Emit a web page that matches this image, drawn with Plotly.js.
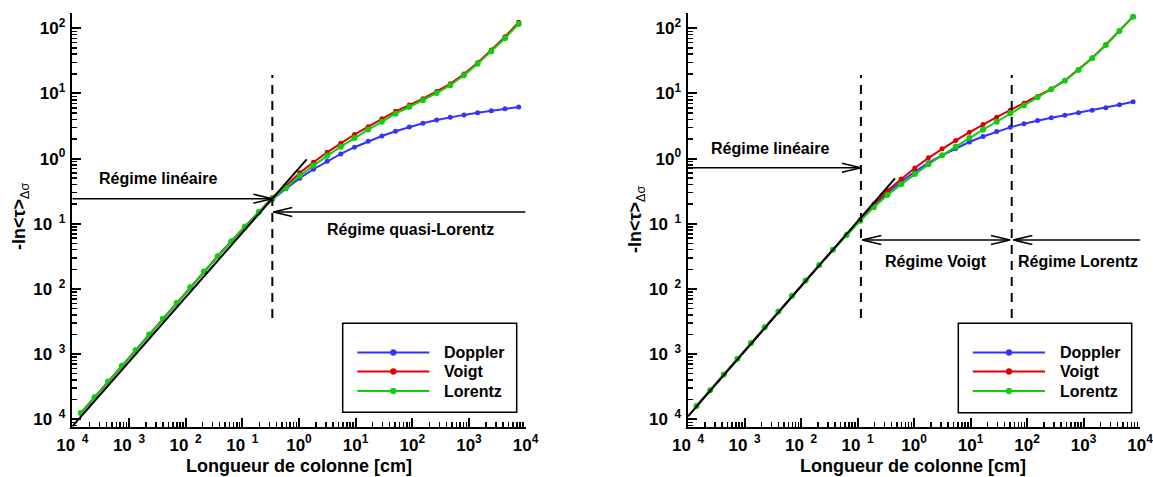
<!DOCTYPE html>
<html><head><meta charset="utf-8">
<script src="https://cdn.plot.ly/plotly-3.0.1.min.js"></script>
<style>html,body{margin:0;padding:0;background:#fff}#chart{width:1153px;height:477px}</style>
</head><body><div id="chart"></div>
<script>
// ---------------- data ----------------
const columnLength = [1.413e-4, 2.463e-4, 4.295e-4, 7.489e-4, 1.306e-3, 2.278e-3, 3.972e-3, 6.927e-3, 1.208e-2, 2.106e-2, 3.673e-2, 6.405e-2, 0.1117, 0.1948, 0.3396, 0.5923, 1.033, 1.801, 3.141, 5.476, 9.550, 16.65, 29.04, 50.64, 88.31, 154.0, 268.5, 468.3, 816.6, 1424, 2483, 4330, 7551];

const dopplerLeft = [1.2445e-4, 2.170e-4, 3.784e-4, 6.600e-4, 1.151e-3, 2.007e-3, 3.499e-3, 6.104e-3, 1.064e-2, 1.856e-2, 3.162e-2, 5.395e-2, 9.078e-2, 0.1496, 0.2377, 0.3467, 0.5012, 0.6871, 0.9120, 1.180, 1.496, 1.845, 2.223, 2.630, 3.055, 3.483, 3.908, 4.305, 4.688, 5.070, 5.445, 5.821, 6.194];
const voigtLeft = [1.2445e-4, 2.170e-4, 3.784e-4, 6.600e-4, 1.151e-3, 2.007e-3, 3.499e-3, 6.104e-3, 1.064e-2, 1.856e-2, 3.162e-2, 5.395e-2, 9.078e-2, 0.1531, 0.2523, 0.3802, 0.6081, 0.8770, 1.250, 1.718, 2.344, 3.090, 4.074, 5.309, 6.637, 8.299, 10.76, 14.06, 19.86, 29.65, 46.34, 74.13, 123.6];
const lorentzLeft = [1.2445e-4, 2.170e-4, 3.784e-4, 6.600e-4, 1.151e-3, 2.007e-3, 3.499e-3, 6.104e-3, 1.064e-2, 1.856e-2, 3.162e-2, 5.395e-2, 9.078e-2, 0.1514, 0.2443, 0.3573, 0.5470, 0.7816, 1.102, 1.524, 2.070, 2.786, 3.673, 4.898, 6.194, 7.834, 10.16, 13.37, 19.05, 28.44, 44.26, 70.47, 116.7];

const dopplerRight = [1.603e-4, 2.796e-4, 4.875e-4, 8.502e-4, 1.483e-3, 2.585e-3, 4.508e-3, 7.862e-3, 1.346e-2, 2.326e-2, 3.981e-2, 6.738e-2, 0.1135, 0.1884, 0.2999, 0.4426, 0.6295, 0.8670, 1.122, 1.429, 1.799, 2.188, 2.600, 3.020, 3.436, 3.837, 4.236, 4.634, 5.058, 5.521, 6.039, 6.699, 7.464];
const voigtRight = [1.603e-4, 2.796e-4, 4.875e-4, 8.502e-4, 1.483e-3, 2.585e-3, 4.508e-3, 7.862e-3, 1.346e-2, 2.326e-2, 3.981e-2, 6.738e-2, 0.1161, 0.1995, 0.3236, 0.4864, 0.7161, 1.028, 1.413, 1.905, 2.529, 3.334, 4.325, 5.546, 7.079, 9.016, 11.70, 15.85, 23.17, 34.99, 55.98, 91.62, 151.4];
const lorentzRight = [1.603e-4, 2.796e-4, 4.875e-4, 8.502e-4, 1.483e-3, 2.585e-3, 4.508e-3, 7.862e-3, 1.346e-2, 2.326e-2, 3.981e-2, 6.738e-2, 0.1109, 0.1799, 0.2761, 0.4027, 0.5808, 0.8166, 1.122, 1.524, 2.070, 2.780, 3.681, 4.955, 6.531, 8.710, 11.56, 15.70, 22.91, 34.59, 55.34, 90.78, 150.3];

// linear-regime asymptotes (two end points each)
const linearLeftX = [1e-4, 1.371];
const linearLeftY = [7.76e-5, 0.975];
const linearRightX = [1e-4, 0.461];
const linearRightY = [1.11e-4, 0.499];

// regime boundaries (dashed lines) and their vertical extent
const boundariesLeft = [0.339];
const boundariesRight = [0.115, 53.6];
const boundaryYRange = [0.00358, 19.2];

// regime arrows
const arrowsLeft = [
  {x0: 1e-4, x1: 0.339, y: 0.2426, heads: 'end'},
  {x0: 1e4, x1: 0.353, y: 0.1517, heads: 'end'}
];
const arrowsRight = [
  {x0: 1e-4, x1: 0.115, y: 0.725, heads: 'end'},
  {x0: 0.1216, x1: 50.0, y: 0.0564, heads: 'both'},
  {x0: 1e4, x1: 57.3, y: 0.0564, heads: 'end'}
];

const seriesNames = ['Doppler', 'Voigt', 'Lorentz'];
const seriesColors = ['#3333ff', '#dd0000', '#11cc11'];
const markerSizes = [5, 5, 6];

const xTickVals = [1e-4, 1e-3, 1e-2, 1e-1, 1, 10, 100, 1000, 10000];
const xTickText = ['10<sup>\u00a0\u00a04</sup>', '10<sup>\u00a0\u00a03</sup>', '10<sup>\u00a0\u00a02</sup>', '10<sup>\u00a0\u00a01</sup>', '10<sup>0</sup>', '10<sup>1</sup>', '10<sup>2</sup>', '10<sup>3</sup>', '10<sup>4</sup>'];
const yTickVals = [1e-4, 1e-3, 1e-2, 1e-1, 1, 10, 100];
const yTickText = ['10<sup>\u00a0\u00a04</sup>', '10<sup>\u00a0\u00a03</sup>', '10<sup>\u00a0\u00a02</sup>', '10<sup>\u00a0\u00a01</sup>', '10<sup>0</sup>', '10<sup>1</sup>', '10<sup>2</sup>'];

const textRegimeLinear = 'Régime linéaire';
const textRegimeQuasi = 'Régime quasi-Lorentz';
const textRegimeVoigt = 'Régime Voigt';
const textRegimeLorentz = 'Régime Lorentz';
const xTitle = 'Longueur de colonne [cm]';
const yTitle = '<b>-ln&lt;τ&gt;</b><sub>Δσ</sub>';

// ---------------- layout helpers ----------------
const W = 1153, H = 477;
const FONT = 'Liberation Sans, Arial, Helvetica, sans-serif';
const px = X => X / W;
const py = Y => 1 - Y / H;
const bold = s => '<b>' + s + '</b>';

function axisBase(extra) {
  return Object.assign({
    type: 'log', showline: true, linecolor: 'black', linewidth: 2.5,
    ticks: 'inside', ticklen: 9, tickwidth: 2, tickcolor: 'black',
    showgrid: false, zeroline: false, mirror: false, fixedrange: true,
    tickmode: 'array', ticklabelstandoff: 1, ticklabeloverflow: 'allow',
    tickfont: {family: FONT, size: 17, color: 'black', weight: 'bold'},
    minor: {ticks: 'inside', ticklen: 5, tickwidth: 1.5, tickcolor: 'black', dtick: 'D1', showgrid: false}
  }, extra);
}

const yDomain = [py(426.7), py(13.3)];
const yRange = [-4.114, 2.23];

const traces = [];
function addPanel(xa, ya, d, v, l, linX, linY) {
  [d, v, l].forEach((ys, k) => {
    traces.push({
      x: columnLength, y: ys, xaxis: xa, yaxis: ya, type: 'scatter', mode: 'lines+markers',
      name: seriesNames[k], showlegend: false,
      line: {color: seriesColors[k], width: 2},
      marker: {color: seriesColors[k], size: markerSizes[k]}
    });
  });
  traces.push({x: linX, y: linY, xaxis: xa, yaxis: ya, type: 'scatter', mode: 'lines',
    showlegend: false, line: {color: 'black', width: 2}, hoverinfo: 'skip'});
}
addPanel('x', 'y', dopplerLeft, voigtLeft, lorentzLeft, linearLeftX, linearLeftY);
addPanel('x2', 'y2', dopplerRight, voigtRight, lorentzRight, linearRightX, linearRightY);

const shapes = [];
function addBoundaries(xref, yref, list) {
  list.forEach(xb => shapes.push({type: 'line', xref, yref, x0: xb, x1: xb,
    y0: boundaryYRange[0], y1: boundaryYRange[1], line: {color: 'black', width: 2, dash: '9px,7px'}}));
}
function head(xref, yref, x, y, dir) {
  shapes.push({type: 'path', xref, yref, xsizemode: 'pixel', ysizemode: 'pixel', xanchor: x, yanchor: y,
    path: `M${-19 * dir},4.5 L0,0 L${-19 * dir},-4.5`, line: {color: 'black', width: 1.5}});
}
function addArrows(xref, yref, list) {
  list.forEach(a => {
    shapes.push({type: 'line', xref, yref, x0: a.x0, x1: a.x1, y0: a.y, y1: a.y, line: {color: 'black', width: 1.5}});
    const dir = a.x1 > a.x0 ? 1 : -1;
    head(xref, yref, a.x1, a.y, dir);
    if (a.heads === 'both') head(xref, yref, a.x0, a.y, -dir);
  });
}
addBoundaries('x', 'y', boundariesLeft);
addBoundaries('x2', 'y2', boundariesRight);
addArrows('x', 'y', arrowsLeft);
addArrows('x2', 'y2', arrowsRight);

const annotations = [];
function txt(text, X, Y, size, extra) {
  annotations.push(Object.assign({text, xref: 'paper', yref: 'paper', x: px(X), y: py(Y),
    xanchor: 'center', yanchor: 'middle', showarrow: false,
    font: {family: FONT, size, color: 'black'}}, extra || {}));
}
txt(bold(textRegimeLinear), 158.3, 178.5, 16);
txt(bold(textRegimeQuasi), 410.8, 230, 16);
txt(bold(textRegimeLinear), 770, 148, 16);
txt(bold(textRegimeVoigt), 936.3, 261, 16);
txt(bold(textRegimeLorentz), 1078.3, 261, 16);
txt(bold(xTitle), 299, 466, 18);
txt(bold(xTitle), 913, 466, 18);
txt(yTitle, 20, 217, 18, {textangle: -90});
txt(yTitle, 636, 220, 18, {textangle: -90});

// hand-drawn legends (box, line samples, markers, labels)
function addLegend(box, lineX0, lineX1, markX, textX, rowsY) {
  shapes.push({type: 'rect', xref: 'paper', yref: 'paper', x0: px(box[0]), x1: px(box[1]), y0: py(box[3]), y1: py(box[2]),
    line: {color: 'black', width: 1.5}, fillcolor: 'white'});
  rowsY.forEach((Y, k) => {
    shapes.push({type: 'line', xref: 'paper', yref: 'paper', x0: px(lineX0), x1: px(lineX1), y0: py(Y), y1: py(Y),
      line: {color: seriesColors[k], width: 2}});
    shapes.push({type: 'circle', xref: 'paper', yref: 'paper', xsizemode: 'pixel', ysizemode: 'pixel',
      xanchor: px(markX), yanchor: py(Y), x0: -3, x1: 3, y0: -3, y1: 3,
      line: {color: seriesColors[k], width: 0.5}, fillcolor: seriesColors[k]});
    txt(bold(seriesNames[k]), textX, Y, 16, {xanchor: 'left'});
  });
}
addLegend([342.7, 516.7, 323.3, 412.3], 357.3, 429.3, 393.3, 442.3, [352.5, 371.5, 391]);
addLegend([958.3, 1131.7, 323.3, 412.7], 972.7, 1045, 1009, 1057.7, [352.5, 371.5, 391]);

const layout = {
  width: W, height: H, margin: {l: 0, r: 0, t: 0, b: 0},
  paper_bgcolor: 'white', plot_bgcolor: 'white', showlegend: false,
  font: {family: FONT, color: 'black'},
  xaxis: axisBase({domain: [px(72.3), px(525.6)], range: [-4, 4], anchor: 'y', tickvals: xTickVals, ticktext: xTickText.map(bold)}),
  yaxis: axisBase({domain: yDomain, range: yRange, anchor: 'x', tickvals: yTickVals, ticktext: yTickText.map(bold)}),
  xaxis2: axisBase({domain: [px(688), px(1140)], range: [-4, 4], anchor: 'y2', tickvals: xTickVals, ticktext: xTickText.map(bold)}),
  yaxis2: axisBase({domain: yDomain, range: yRange, anchor: 'x2', tickvals: yTickVals, ticktext: yTickText.map(bold)}),
  shapes, annotations
};

Plotly.newPlot('chart', traces, layout, {staticPlot: true, displayModeBar: false});
</script></body></html>
